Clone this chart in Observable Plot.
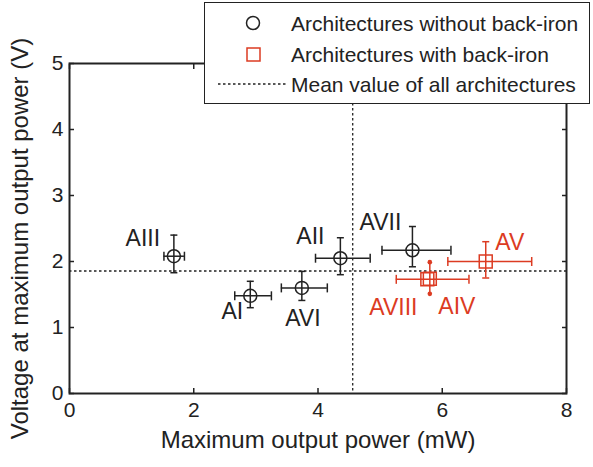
<!DOCTYPE html>
<html><head><meta charset="utf-8">
<script src="https://cdn.jsdelivr.net/npm/d3@7"></script>
<script src="https://cdn.jsdelivr.net/npm/@observablehq/plot@0.6"></script>
<style>
body{margin:0;background:#fff;font-family:'Liberation Sans',Arial,sans-serif;}
#wrap{position:relative;width:593px;height:467px;}
#legend{position:absolute;left:204px;top:2px;width:384px;height:100px;border:1.5px solid #222;background:#fff;}
</style></head><body><div id="wrap"></div>
<script>
// ---- data ----
const namesNoIron = ["AI","AII","AIII","AVI","AVII"];
const powerNoIron = [2.91,4.36,1.68,3.74,5.52];
const voltNoIron = [1.48,2.05,2.08,1.60,2.17];
const powerLoNoIron = [2.66,3.96,1.52,3.41,5.03];
const powerHiNoIron = [3.25,4.84,1.85,4.15,6.14];
const voltLoNoIron = [1.30,1.80,1.83,1.41,1.92];
const voltHiNoIron = [1.70,2.36,2.40,1.85,2.53];

const namesIron = ["AIV","AV","AVIII"];
const powerIron = [5.80,6.70,5.76];
const voltIron = [1.74,2.00,1.73];
const powerLoIron = [null,6.09,5.26];
const powerHiIron = [null,7.44,6.43];
const voltLoIron = [1.51,1.75,null];
const voltHiIron = [1.99,2.30,null];

const xTicks = [0,2,4,6,8];
const yTicks = [0,1,2,3,4,5];
const xTitle = "Maximum output power (mW)";
const yTitle = "Voltage at maximum output power (V)";
const legendLabels = ["Architectures without back-iron","Architectures with back-iron","Mean value of all architectures"];

// ---- styles ----
const BLACK = "#222", RED = "#dc3b22";
const FONT = "'Liberation Sans', Arial, sans-serif";
const labelOffset = {AI:[-18,16],AII:[-30,-22],AIII:[-31,-18],AVI:[1,31],AVII:[-32,-28],AV:[24,-19],AVIII:[-34,28],AIV:[27,28]};

function rows(names,p,v,pl,ph,vl,vh){
  return names.map((n,i)=>({name:n,p:p[i],v:v[i],pLo:pl[i],pHi:ph[i],vLo:vl[i],vHi:vh[i]}));
}
const noIron = rows(namesNoIron,powerNoIron,voltNoIron,powerLoNoIron,powerHiNoIron,voltLoNoIron,voltHiNoIron);
const iron = rows(namesIron,powerIron,voltIron,powerLoIron,powerHiIron,voltLoIron,voltHiIron);
const all = noIron.concat(iron);
const meanP = d3.mean(all,d=>d.p), meanV = d3.mean(all,d=>d.v);

const vCap = {draw(ctx,size){const r=Math.sqrt(size/Math.PI);ctx.moveTo(0,-r);ctx.lineTo(0,r);}};
const hCap = {draw(ctx,size){const r=Math.sqrt(size/Math.PI);ctx.moveTo(-r,0);ctx.lineTo(r,0);}};

function errMarks(data,color){
  const hx = data.filter(d=>d.pLo!=null), vy = data.filter(d=>d.vLo!=null);
  const vyLine = vy.filter(d=>d.name!=="AIV"), vyDot = vy.filter(d=>d.name==="AIV");
  return [
    Plot.ruleY(hx,{y:"v",x1:"pLo",x2:"pHi",stroke:color,strokeWidth:1.5}),
    Plot.ruleX(vy,{x:"p",y1:"vLo",y2:"vHi",stroke:color,strokeWidth:1.5}),
    Plot.dot(hx,{x:"pLo",y:"v",symbol:vCap,r:4.5,stroke:color,strokeWidth:1.5,fill:"none"}),
    Plot.dot(hx,{x:"pHi",y:"v",symbol:vCap,r:4.5,stroke:color,strokeWidth:1.5,fill:"none"}),
    Plot.dot(vyLine,{x:"p",y:"vLo",symbol:hCap,r:3.5,stroke:color,strokeWidth:1.5,fill:"none"}),
    Plot.dot(vyLine,{x:"p",y:"vHi",symbol:hCap,r:3.5,stroke:color,strokeWidth:1.5,fill:"none"}),
    Plot.dot(vyDot,{x:"p",y:"vLo",r:2.3,fill:color,stroke:"none"}),
    Plot.dot(vyDot,{x:"p",y:"vHi",r:2.3,fill:color,stroke:"none"})
  ];
}

const labelMarks = Object.keys(labelOffset).map(n=>{
  const inIron = namesIron.includes(n);
  return Plot.text(all.filter(d=>d.name===n),{x:"p",y:"v",text:"name",dx:labelOffset[n][0],dy:labelOffset[n][1],
    fontSize:23,fill:inIron?RED:BLACK,textAnchor:"middle"});
});

const chart = Plot.plot({
  width:593,height:467,
  marginLeft:69,marginRight:27,marginTop:63,marginBottom:74,
  x:{domain:[0,8]},
  y:{domain:[0,5]},
  style:{fontFamily:FONT,fontSize:"21px",color:BLACK,background:"#fff"},
  marks:[
    Plot.ruleY([meanV],{stroke:BLACK,strokeWidth:1.3,strokeDasharray:"2.5,2.5"}),
    Plot.ruleX([meanP],{stroke:BLACK,strokeWidth:1.3,strokeDasharray:"2.5,2.5"}),
    ...errMarks(noIron,BLACK),
    ...errMarks(iron,RED),
    Plot.dot(noIron,{x:"p",y:"v",r:6.5,stroke:BLACK,strokeWidth:1.5,fill:"none"}),
    Plot.dot(iron,{x:"p",y:"v",symbol:"square",r:7.3,stroke:RED,strokeWidth:1.5,fill:"none"}),
    ...labelMarks,
    Plot.axisX({ticks:xTicks,tickSize:-5,tickPadding:14,tickFormat:d3.format("d"),label:null,strokeWidth:1.5,fontSize:21}),
    Plot.axisX({anchor:"top",ticks:xTicks,tickSize:-5,tickFormat:()=>"",label:null,strokeWidth:1.5}),
    Plot.axisY({ticks:yTicks,tickSize:-5,tickPadding:11,tickFormat:d3.format("d"),label:null,strokeWidth:1.5,fontSize:21}),
    Plot.axisY({anchor:"right",ticks:yTicks,tickSize:-5,tickFormat:()=>"",label:null,strokeWidth:1.5}),
    Plot.frame({stroke:BLACK,strokeWidth:2}),
    Plot.text([xTitle],{frameAnchor:"bottom",dy:47,fontSize:24,fill:BLACK,textAnchor:"middle",lineAnchor:"middle"}),
    Plot.text([yTitle],{frameAnchor:"left",dx:-49,dy:10,rotate:-90,fontSize:24,fill:BLACK,textAnchor:"middle",lineAnchor:"middle"})
  ]
});
const wrap = document.getElementById("wrap");
wrap.appendChild(chart);

// legend overlay
const leg = document.createElement("div");
leg.id = "legend";
leg.innerHTML = `<svg width="384" height="100" style="font-family:${FONT};font-size:21px;fill:${BLACK}">
<circle cx="48" cy="20" r="6.5" fill="none" stroke="${BLACK}" stroke-width="1.5"/>
<rect x="42" y="45" width="13" height="13" fill="none" stroke="${RED}" stroke-width="1.5"/>
<line x1="13" x2="81" y1="81" y2="81" stroke="${BLACK}" stroke-width="1.3" stroke-dasharray="2.5,2.5"/>
<text x="86" y="20" dy="0.36em">${legendLabels[0]}</text>
<text x="86" y="51" dy="0.36em">${legendLabels[1]}</text>
<text x="86" y="81" dy="0.36em">${legendLabels[2]}</text>
</svg>`;
wrap.appendChild(leg);
</script></body></html>
